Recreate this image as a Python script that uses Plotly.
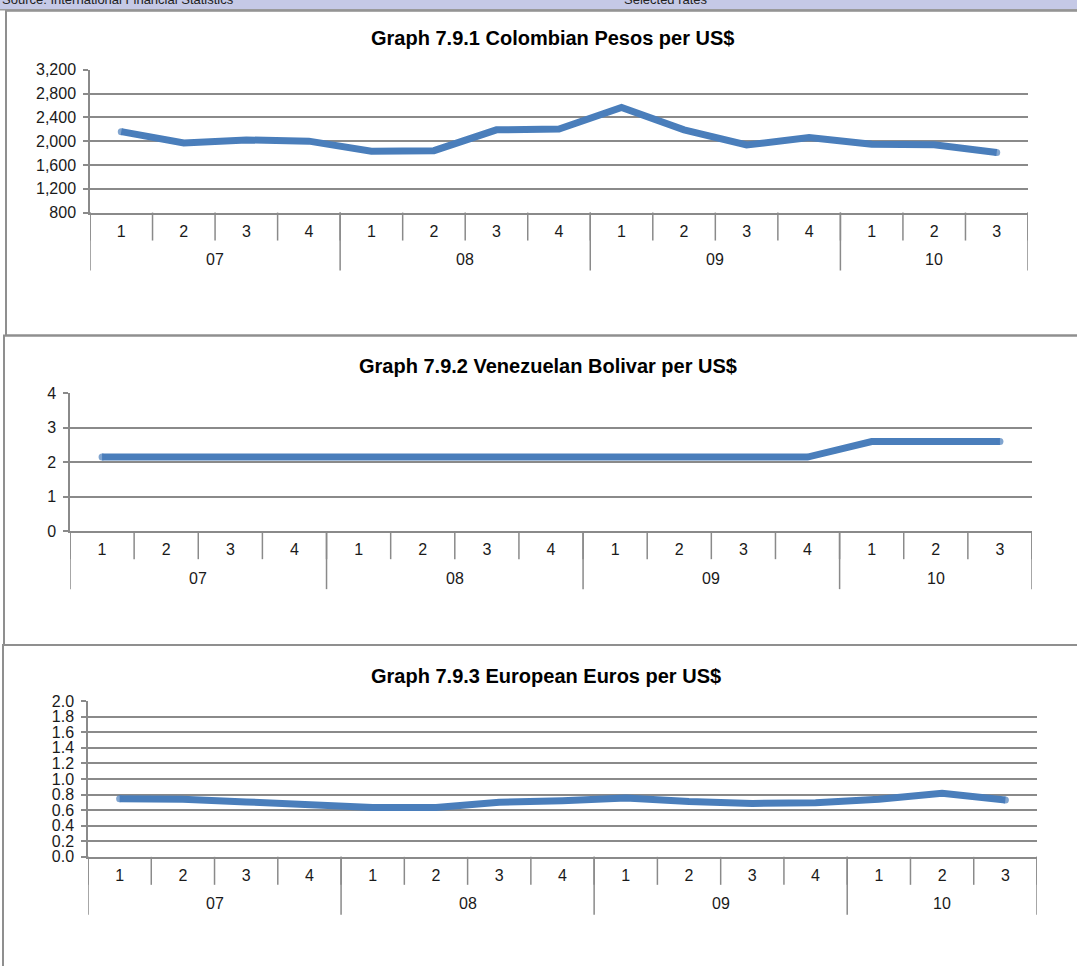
import plotly.graph_objects as go

W, H = 1077, 966

# ---------------- data ----------------
years = ["07", "07", "07", "07", "08", "08", "08", "08",
         "09", "09", "09", "09", "10", "10", "10"]
quarters = ["1", "2", "3", "4", "1", "2", "3", "4",
            "1", "2", "3", "4", "1", "2", "3"]

cop_per_usd = [2160, 1970, 2020, 2000, 1830, 1840, 2190, 2205,
               2565, 2190, 1935, 2060, 1950, 1940, 1810]
vef_per_usd = [2.15, 2.15, 2.15, 2.15, 2.15, 2.15, 2.15, 2.15,
               2.15, 2.15, 2.15, 2.15, 2.60, 2.60, 2.60]
eur_per_usd = [0.745, 0.74, 0.705, 0.68, 0.635, 0.635, 0.70, 0.72,
               0.755, 0.71, 0.685, 0.695, 0.74, 0.815, 0.73]

titles = ["Graph 7.9.1 Colombian Pesos per US$",
          "Graph 7.9.2 Venezuelan Bolivar per US$",
          "Graph 7.9.3 European Euros per US$"]

# ---------------- layout geometry (pixels) ----------------
panels = [
    dict(data=cop_per_usd, x0=90, x1=1028, ytop=69, ybot=212, yr=[800, 3200], dtick=400,
         fmt=",", title_x=553, title_y=37, box=(6, 10, 1095, 335)),
    dict(data=vef_per_usd, x0=70, x1=1032, ytop=393, ybot=531, yr=[0, 4], dtick=1,
         fmt="d", title_x=548, title_y=366, box=(4, 335, 1095, 645)),
    dict(data=eur_per_usd, x0=88, x1=1037, ytop=701, ybot=857, yr=[0, 2], dtick=0.2,
         fmt=".1f", title_x=546, title_y=676, box=(3, 645, 1095, 990)),
]

GRID = "#8a8a8a"
LINE = "#4a7ebb"
FONT = "Liberation Sans, Arial, sans-serif"
TICK_SIZE = 16

# screen calibration (observed vertical offset/scale of the capture)
Y_OFF, Y_SCALE = 7.2, 0.9835


def px(x):
    return x / W


def py(y):
    return 1 - ((y - Y_OFF) / Y_SCALE) / H


idx = list(range(len(quarters)))
end_caps = [7 if i in (0, len(idx) - 1) else 0 for i in idx]

fig = go.Figure()
shapes = []
annotations = []

# header band (cut off at top)
shapes.append(dict(type="rect", xref="paper", yref="paper", x0=0, x1=1,
                   y0=py(9), y1=1.05, fillcolor="#c5c9e6", line=dict(width=0), layer="below"))
shapes.append(dict(type="line", xref="paper", yref="paper", x0=0, x1=1,
                   y0=py(9), y1=py(9), line=dict(color="#9a9a9a", width=1.5)))
annotations.append(dict(text="Source: International Financial Statistics", xref="paper", yref="paper",
                        x=px(0), y=py(8), xanchor="left", yanchor="bottom", showarrow=False,
                        font=dict(family=FONT, size=13, color="#222")))
annotations.append(dict(text="Selected rates", xref="paper", yref="paper",
                        x=px(622), y=py(8), xanchor="left", yanchor="bottom", showarrow=False,
                        font=dict(family=FONT, size=13, color="#222")))

for n, p in enumerate(panels, start=1):
    xa = "x" if n == 1 else f"x{n}"
    ya = "y" if n == 1 else f"y{n}"
    fig.add_trace(go.Scatter(x=idx, y=p["data"], mode="lines+markers",
                             line=dict(color=LINE, width=7),
                             marker=dict(color=LINE, size=end_caps, line=dict(width=0)),
                             xaxis=xa, yaxis=ya, showlegend=False, hoverinfo="skip"))
    xkey = "xaxis" if n == 1 else f"xaxis{n}"
    ykey = "yaxis" if n == 1 else f"yaxis{n}"
    fig.update_layout(**{
        xkey: dict(domain=[px(p["x0"]), px(p["x1"])], range=[-0.5, len(idx) - 0.5],
                   anchor=ya, tickmode="array", tickvals=idx, ticktext=quarters,
                   ticks="outside", ticklen=3, tickcolor="rgba(0,0,0,0)",
                   showgrid=False, zeroline=False, showline=True, linecolor=GRID, linewidth=1.5,
                   tickfont=dict(family=FONT, size=TICK_SIZE, color="#1a1a1a"), fixedrange=True),
        ykey: dict(domain=[py(p["ybot"]), py(p["ytop"])], range=p["yr"], anchor=xa,
                   tickmode="linear", tick0=p["yr"][0], dtick=p["dtick"], tickformat=p["fmt"],
                   showgrid=True, gridcolor=GRID, gridwidth=1.5, zeroline=False,
                   showline=True, linecolor=GRID, linewidth=1.5,
                   ticks="outside", ticklen=5, tickcolor=GRID, tickwidth=1.5,
                   ticklabelstandoff=4,
                   tickfont=dict(family=FONT, size=TICK_SIZE, color="#1a1a1a"), fixedrange=True),
    })
    # chart box
    bx0, by0, bx1, by1 = p["box"]
    shapes.append(dict(type="rect", xref="paper", yref="paper", x0=px(bx0), x1=px(bx1),
                       y0=py(by1), y1=py(by0), line=dict(color="#8f8f8f", width=2),
                       fillcolor="rgba(0,0,0,0)", layer="below"))
    # title
    annotations.append(dict(text="<b>" + titles[n - 1] + "</b>", xref="paper", yref="paper",
                            x=px(p["title_x"]), y=py(p["title_y"]), xanchor="center", yanchor="middle",
                            showarrow=False, font=dict(family=FONT, size=20, color="#000")))
    axis_y = p["ybot"]
    # category boundary ticks
    for b in range(len(idx) + 1):
        shapes.append(dict(type="line", xref=xa, yref="paper", x0=b - 0.5, x1=b - 0.5,
                           y0=py(axis_y), y1=py(axis_y + 28), line=dict(color=GRID, width=1.5)))
    # year group dividers and labels
    groups = []
    for i, yv in enumerate(years):
        if not groups or groups[-1][0] != yv:
            groups.append([yv, i, i])
        else:
            groups[-1][2] = i
    bounds = [g[1] - 0.5 for g in groups] + [groups[-1][2] + 0.5]
    for b in bounds:
        shapes.append(dict(type="line", xref=xa, yref="paper", x0=b, x1=b,
                           y0=py(axis_y), y1=py(axis_y + 58), line=dict(color=GRID, width=1.5)))
    for g in groups:
        annotations.append(dict(text=g[0], xref=xa, yref="paper", x=(g[1] + g[2]) / 2,
                                y=py(axis_y + 47), xanchor="center", yanchor="middle",
                                showarrow=False, font=dict(family=FONT, size=TICK_SIZE, color="#1a1a1a")))

fig.update_layout(width=W, height=H, margin=dict(l=0, r=0, t=0, b=0),
                  paper_bgcolor="white", plot_bgcolor="white",
                  shapes=shapes, annotations=annotations, showlegend=False)

fig.write_html("out.html", config={"displayModeBar": False},
               post_script="document.body.style.margin='0';document.body.style.overflow='hidden';")
